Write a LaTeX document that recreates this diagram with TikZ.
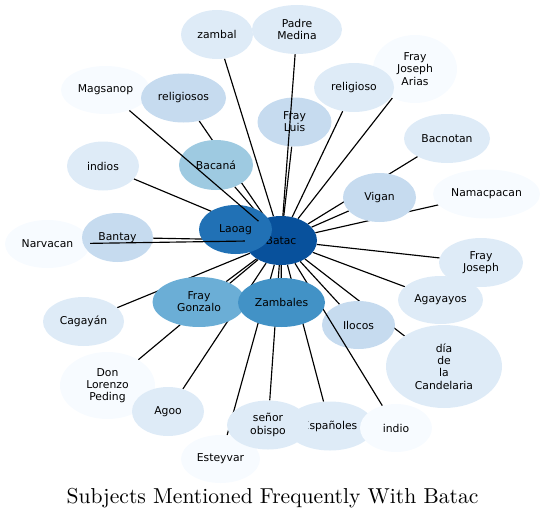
\documentclass[tikz,border=0pt]{standalone}
\usepackage{fontspec}
\newfontfamily\labelfont{DejaVu Sans}
\newfontfamily\titlefont{lmroman10-regular.otf}
\usepackage{tikz}
\usetikzlibrary{shapes.geometric,backgrounds}
\definecolor{blues1}{HTML}{F7FBFF}
\definecolor{blues2}{HTML}{DEEBF7}
\definecolor{blues3}{HTML}{C6DBEF}
\definecolor{blues4}{HTML}{9ECAE1}
\definecolor{blues5}{HTML}{6BAED6}
\definecolor{blues6}{HTML}{4292C6}
\definecolor{blues7}{HTML}{2171B5}
\definecolor{blues8}{HTML}{08519C}

\begin{document}
\begin{tikzpicture}[x=1pt,y=-1pt,
  every node/.style={font=\labelfont\fontsize{10.8}{12.2}\selectfont},
  subj/.style={ellipse,inner sep=0pt,align=center,text=black},
  sz/.style 2 args={minimum width=#1pt,minimum height=#2pt},
  conn/.style={black,line width=1.15pt}]
  \useasboundingbox (0,0) rectangle (545,519);
  % centre node and the ones lying on top of it
  \node[subj,fill=blues8,sz={72}{49}] (batac) at (281,240.5) {Batac};
  \node[subj,fill=blues7,sz={73}{49}] (laoag) at (235.5,229.5) {Laoag};
  \node[subj,fill=blues4,sz={74}{50}] (bacana) at (216,165) {Bacaná};
  % upper ring
  \node[subj,fill=blues2,sz={72}{49}] (zambal) at (217,34.5) {zambal};
  \node[subj,fill=blues2,sz={90}{49}] (padremedina) at (297,29.5) {Padre\\Medina};
  \node[subj,fill=blues1,sz={84}{68}] (arias) at (415,69) {Fray\\Joseph\\Arias};
  \node[subj,fill=blues2,sz={80}{49}] (religioso) at (354,87.5) {religioso};
  \node[subj,fill=blues3,sz={74}{49}] (frayluis) at (294.5,122) {Fray\\Luis};
  \node[subj,fill=blues2,sz={86}{49}] (bacnotan) at (447,138.5) {Bacnotan};
  \node[subj,fill=blues1,sz={107}{49}] (namacpacan) at (486.5,194) {Namacpacan};
  \node[subj,fill=blues3,sz={73}{49}] (vigan) at (379.5,197.5) {Vigan};
  % right side
  \node[subj,fill=blues2,sz={84}{49}] (frayjoseph) at (481,262.5) {Fray\\Joseph};
  \node[subj,fill=blues2,sz={85}{48}] (agayayos) at (440.5,300) {Agayayos};
  \node[subj,fill=blues2,sz={116}{83}] (candelaria) at (444,366.5) {día\\de\\la\\Candelaria};
  \node[subj,fill=blues3,sz={73}{48}] (ilocos) at (358.5,325) {Ilocos};
  % lower ring
  \node[subj,fill=blues2,sz={88}{49}] (espanoles) at (330,426) {Españoles};
  \node[subj,fill=blues1,sz={72}{48}] (indio) at (396,428) {indio};
  \node[subj,fill=blues1,sz={79}{48}] (esteyvar) at (220.5,459) {Esteyvar};
  \node[subj,fill=blues2,sz={82}{49}] (obispo) at (268,425) {señor\\obispo};
  \node[subj,fill=blues1,sz={95}{67}] (lorenzo) at (107.5,385.5) {Don\\Lorenzo\\Peding};
  \node[subj,fill=blues2,sz={72}{49}] (agoo) at (168,411.5) {Agoo};
  \node[subj,fill=blues2,sz={81}{49}] (cagayan) at (83.5,321.5) {Cagayán};
  \node[subj,fill=blues5,sz={93}{50}] (gonzalo) at (199,302) {Fray\\Gonzalo};
  % left side
  \node[subj,fill=blues1,sz={85}{48}] (narvacan) at (47.5,244) {Narvacan};
  \node[subj,fill=blues3,sz={71}{49}] (bantay) at (117.5,237.5) {Bantay};
  \node[subj,fill=blues2,sz={72}{49}] (indios) at (103,166) {indios};
  \node[subj,fill=blues1,sz={89}{48}] (magsanop) at (105.5,90) {Magsanop};
  \node[subj,fill=blues3,sz={85}{49}] (religiosos) at (183.5,98) {religiosos};

  \draw[conn] (batac) -- (indio);
  \node[subj,fill=blues6,sz={87}{49}] (zambales) at (281.5,302.5) {Zambales};

  % links hidden under the nodes
  \begin{pgfonlayer}{background}
    \foreach \n in {bacana,zambal,arias,religioso,frayluis,bacnotan,namacpacan,vigan,
      frayjoseph,agayayos,candelaria,ilocos,espanoles,esteyvar,obispo,lorenzo,agoo,
      cagayan,gonzalo,zambales,bantay,indios,religiosos}
      \draw[conn] (batac) -- (\n);
  \end{pgfonlayer}
  % links drawn over the nodes
  \foreach \n in {narvacan,magsanop,padremedina}
    \draw[conn] (batac) -- (\n);

  \node[anchor=base,font=\titlefont\fontsize{21.6}{25}\selectfont] (title) at (272.5,503.3)
    {Subjects Mentioned Frequently With Batac};
\end{tikzpicture}
\end{document}
